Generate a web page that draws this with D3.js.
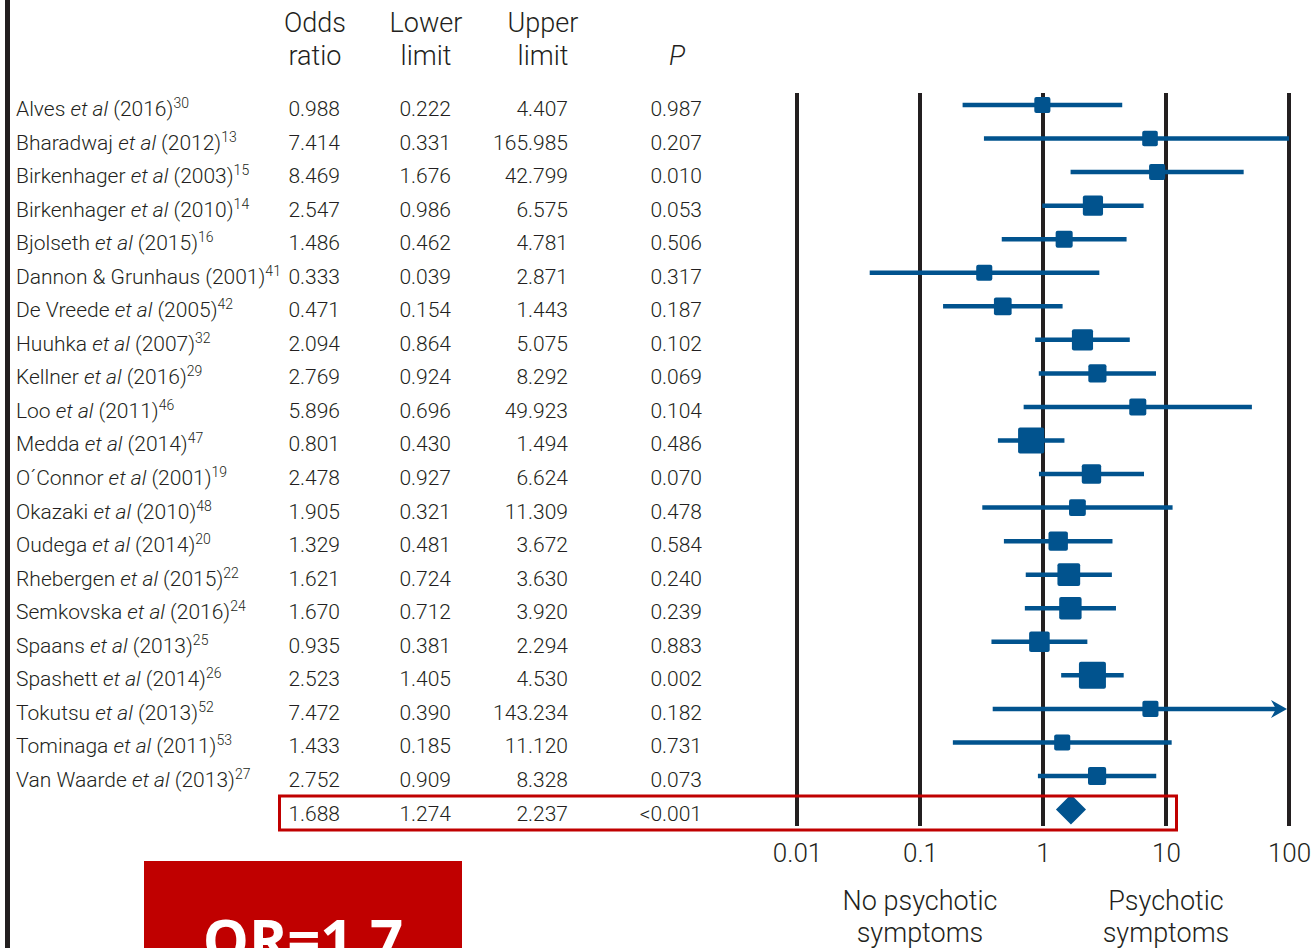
<!DOCTYPE html>
<html>
<head>
<meta charset="utf-8">
<script src="https://cdn.jsdelivr.net/npm/d3@7"></script>
<style>
  html, body { margin: 0; padding: 0; background: #ffffff; }
  svg { display: block; }
  text { font-family: Roboto, "Liberation Sans", sans-serif; fill: #231f20; }
</style>
</head>
<body>
<svg id="chart" width="1314" height="948"></svg>
<script>
// Studies included in the meta-analysis
const studies = [
  "Alves et al (2016)", "Bharadwaj et al (2012)", "Birkenhager et al (2003)",
  "Birkenhager et al (2010)", "Bjolseth et al (2015)", "Dannon & Grunhaus (2001)",
  "De Vreede et al (2005)", "Huuhka et al (2007)", "Kellner et al (2016)",
  "Loo et al (2011)", "Medda et al (2014)", "O\u00B4Connor et al (2001)",
  "Okazaki et al (2010)", "Oudega et al (2014)", "Rhebergen et al (2015)",
  "Semkovska et al (2016)", "Spaans et al (2013)", "Spashett et al (2014)",
  "Tokutsu et al (2013)", "Tominaga et al (2011)", "Van Waarde et al (2013)"
];
const refs = ["30", "13", "15", "14", "16", "41", "42", "32", "29", "46", "47",
              "19", "48", "20", "22", "24", "25", "26", "52", "53", "27"];

const oddsRatio = [0.988, 7.414, 8.469, 2.547, 1.486, 0.333, 0.471, 2.094, 2.769, 5.896, 0.801,
                   2.478, 1.905, 1.329, 1.621, 1.670, 0.935, 2.523, 7.472, 1.433, 2.752];
const lowerLimit = [0.222, 0.331, 1.676, 0.986, 0.462, 0.039, 0.154, 0.864, 0.924, 0.696, 0.430,
                    0.927, 0.321, 0.481, 0.724, 0.712, 0.381, 1.405, 0.390, 0.185, 0.909];
const upperLimit = [4.407, 165.985, 42.799, 6.575, 4.781, 2.871, 1.443, 5.075, 8.292, 49.923, 1.494,
                    6.624, 11.309, 3.672, 3.630, 3.920, 2.294, 4.530, 143.234, 11.120, 8.328];
const pValue = [0.987, 0.207, 0.010, 0.053, 0.506, 0.317, 0.187, 0.102, 0.069, 0.104, 0.486,
                0.070, 0.478, 0.584, 0.240, 0.239, 0.883, 0.002, 0.182, 0.731, 0.073];
// Relative study weights (%) used for square sizes
const weights = [3.3, 3.1, 3.3, 5.2, 3.7, 3.3, 4.0, 5.7, 4.2, 3.7, 8.7,
                 4.8, 3.6, 4.8, 6.6, 6.4, 5.4, 9.3, 3.3, 3.3, 4.2];

// Pooled estimate
const pooled = { or: 1.688, lower: 1.274, upper: 2.237, p: "<0.001" };

const axisTicks = [0.01, 0.1, 1, 10, 100];
const tickLabels = ["0.01", "0.1", "1", "10", "100"];
const headers = [["Odds", "ratio"], ["Lower", "limit"], ["Upper", "limit"], ["", "P"]];
const sideLabels = [["No psychotic", "symptoms"], ["Psychotic", "symptoms"]];
const sideLabelAt = [0.1, 10];
const badgeText = "OR=1.7";
const arrowRow = "Tokutsu et al (2013)";

const BLUE = "#01538e";
const INK = "#231f20";
const RED = "#c00000";

const svg = d3.select("#chart");
const fmt = d3.format(".3f");

const x = d3.scaleLog().domain([0.01, 100]).range([797, 1289]);
const rowKeys = d3.range(studies.length + 1);
const y = d3.scaleBand().domain(rowKeys).range([88.2, 826.3]);
const yc = i => y(i) + y.bandwidth() / 2;
const size = d3.scaleSqrt().domain([0, d3.max(weights)]).range([0, 27]);

// left frame rule
svg.append("rect").attr("x", 5).attr("y", 0).attr("width", 5).attr("height", 948).attr("fill", INK);

// column headers
const colCenter = [315, 426, 543, 677];
const colRight = [340, 451, 568, 702];
headers.forEach((h, c) => {
  h.forEach((line, k) => {
    if (!line) return;
    svg.append("text")
      .attr("x", colCenter[c]).attr("y", 32 + k * 33)
      .attr("text-anchor", "middle")
      .style("font-size", "27px").style("font-weight", 300)
      .style("font-style", line === "P" ? "italic" : "normal")
      .text(line);
  });
});

// study labels with italic "et al" and superscript reference
const labels = svg.append("g");
studies.forEach((s, i) => {
  const t = labels.append("text")
    .attr("x", 16).attr("y", yc(i) + 11)
    .style("font-size", "21px").style("font-weight", 300);
  const m = s.match(/^(.*?) et al (.*)$/);
  if (m) {
    t.append("tspan").text(m[1] + " ");
    t.append("tspan").style("font-style", "italic").text("et al");
    t.append("tspan").text(" " + m[2]);
  } else {
    t.append("tspan").text(s);
  }
  t.append("tspan").attr("dy", -8).style("font-size", "14px").text(refs[i]);
});

// numeric columns
const cols = [oddsRatio, lowerLimit, upperLimit, pValue];
cols.forEach((arr, c) => {
  svg.append("g").selectAll("text").data(arr).join("text")
    .attr("x", colRight[c]).attr("y", (d, i) => yc(i) + 11)
    .attr("text-anchor", "end")
    .style("font-size", "21px").style("font-weight", 300)
    .text(d => fmt(d));
});
const pooledRow = studies.length;
[fmt(pooled.or), fmt(pooled.lower), fmt(pooled.upper), pooled.p].forEach((v, c) => {
  svg.append("text")
    .attr("x", colRight[c]).attr("y", yc(pooledRow) + 11)
    .attr("text-anchor", "end")
    .style("font-size", "21px").style("font-weight", 300)
    .text(v);
});

// reference lines at each decade
svg.append("g").selectAll("line").data(axisTicks).join("line")
  .attr("x1", d => x(d)).attr("x2", d => x(d))
  .attr("y1", 93).attr("y2", 826)
  .attr("stroke", INK).attr("stroke-width", 4);

// confidence intervals
const maxX = x.domain()[1];
const ci = svg.append("g");
studies.forEach((s, i) => {
  const hasArrow = s === arrowRow;
  const xEnd = x(Math.min(upperLimit[i], maxX));
  ci.append("line")
    .attr("x1", x(lowerLimit[i])).attr("x2", hasArrow ? xEnd - 12 : xEnd)
    .attr("y1", yc(i)).attr("y2", yc(i))
    .attr("stroke", BLUE).attr("stroke-width", 4.5);
  if (hasArrow) {
    const yy = yc(i);
    ci.append("path")
      .attr("d", `M${xEnd - 2},${yy} L${xEnd - 18},${yy - 9} L${xEnd - 13},${yy} L${xEnd - 18},${yy + 9} Z`)
      .attr("fill", BLUE);
  }
});

// weighted squares
svg.append("g").selectAll("rect").data(oddsRatio).join("rect")
  .attr("x", (d, i) => x(d) - size(weights[i]) / 2)
  .attr("y", (d, i) => yc(i) - size(weights[i]) / 2)
  .attr("width", (d, i) => size(weights[i]))
  .attr("height", (d, i) => size(weights[i]))
  .attr("rx", 2)
  .attr("fill", BLUE);

// pooled diamond
const py = yc(pooledRow);
svg.append("path")
  .attr("d", `M${x(pooled.lower)},${py} L${x(pooled.or)},${py - 15} L${x(pooled.upper)},${py} L${x(pooled.or)},${py + 15} Z`)
  .attr("fill", BLUE);

// highlight box around the pooled row
svg.append("rect")
  .attr("x", 279.5).attr("y", 796).attr("width", 897).attr("height", 34)
  .attr("fill", "none").attr("stroke", RED).attr("stroke-width", 3);

// x axis labels
const axis = d3.axisBottom(x).tickValues(axisTicks)
  .tickFormat((d, i) => tickLabels[i]).tickSize(0).tickPadding(6);
const ax = svg.append("g").attr("transform", "translate(0,838)").call(axis);
ax.select(".domain").remove();
ax.selectAll("text").style("font-size", "26px").style("font-weight", 300)
  .style("font-family", "Roboto, 'Liberation Sans', sans-serif").attr("fill", INK);

// direction labels
sideLabels.forEach((lines, j) => {
  lines.forEach((line, k) => {
    svg.append("text")
      .attr("x", x(sideLabelAt[j])).attr("y", 910 + k * 32)
      .attr("text-anchor", "middle")
      .style("font-size", "27px").style("font-weight", 300)
      .text(line);
  });
});

// red summary badge
svg.append("rect").attr("x", 144).attr("y", 861).attr("width", 318).attr("height", 100).attr("fill", RED);
svg.append("text")
  .attr("x", 303).attr("y", 961)
  .attr("text-anchor", "middle")
  .style("font-family", "'Open Sans', Roboto, sans-serif")
  .style("font-size", "58px").style("font-weight", 700)
  .style("fill", "#ffffff")
  .text(badgeText);
</script>
</body>
</html>
